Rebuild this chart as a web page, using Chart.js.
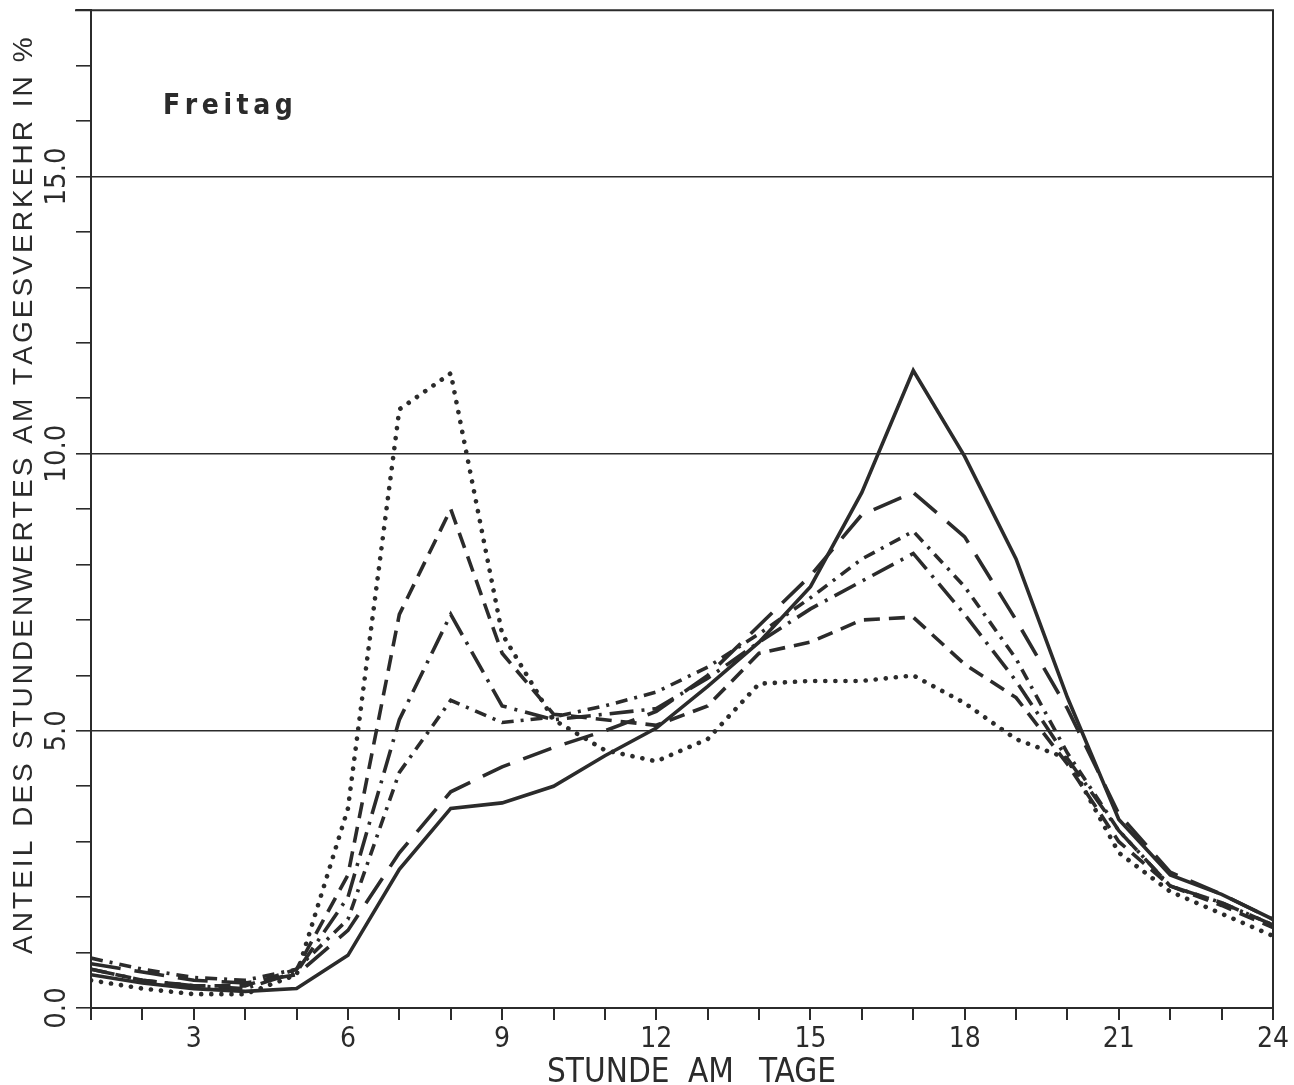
<!DOCTYPE html>
<html>
<head>
<meta charset="utf-8">
<script src="https://cdn.jsdelivr.net/npm/chart.js@4/dist/chart.umd.min.js"></script>
<style>
  html, body { margin: 0; padding: 0; background: #fff; }
  #wrap { width: 1294px; height: 1085px; }
</style>
</head>
<body>
<div id="wrap"><canvas id="myChart" width="1294" height="1085"></canvas></div>
<script>
var hours = [1, 2, 3, 4, 5, 6, 7, 8, 9, 10, 11, 12, 13, 14, 15, 16, 17, 18, 19, 20, 21, 22, 23, 24];

// Anteil des Stundenwertes am Tagesverkehr in %, one array per curve
var solid       = [0.6, 0.45, 0.35, 0.3, 0.35, 0.95, 2.5, 3.6, 3.7, 4.0, 4.55, 5.05, 5.8, 6.6, 7.6, 9.3, 11.5, 9.95, 8.1, 5.6, 3.4, 2.4, 2.05, 1.6];
var longDash    = [0.8, 0.65, 0.5, 0.45, 0.6, 1.4, 2.8, 3.9, 4.35, 4.7, 5.0, 5.35, 6.0, 6.9, 7.8, 8.9, 9.3, 8.5, 7.0, 5.4, 3.5, 2.45, 2.05, 1.6];
var dashDot     = [0.9, 0.7, 0.55, 0.5, 0.7, 1.6, 4.25, 5.55, 5.15, 5.25, 5.45, 5.7, 6.15, 6.75, 7.4, 8.1, 8.6, 7.6, 6.3, 4.6, 3.2, 2.2, 1.9, 1.5];
var longDashDot = [0.7, 0.5, 0.4, 0.35, 0.65, 2.0, 5.2, 7.1, 5.45, 5.2, 5.3, 5.4, 5.95, 6.6, 7.2, 7.7, 8.2, 7.1, 5.9, 4.5, 3.2, 2.2, 1.9, 1.5];
var dashed      = [0.7, 0.5, 0.4, 0.4, 0.7, 2.4, 7.1, 9.0, 6.4, 5.3, 5.2, 5.1, 5.45, 6.4, 6.6, 7.0, 7.05, 6.2, 5.6, 4.4, 3.0, 2.2, 1.85, 1.45];
var dotted      = [0.5, 0.35, 0.25, 0.25, 0.6, 3.6, 10.8, 11.45, 6.75, 5.2, 4.65, 4.45, 4.85, 5.85, 5.9, 5.9, 6.0, 5.5, 4.85, 4.5, 2.8, 2.1, 1.7, 1.3];

var yTickValues = [0, 5, 10, 15];
var yTickLabels = ['0.0', '5.0', '10.0', '15.0'];
var panelTitle = 'Freitag';
var yTitle = 'ANTEIL DES STUNDENWERTES AM TAGESVERKEHR IN %';
var xTitleWords = ['STUNDE', 'AM', 'TAGE'];

var ink = '#2b2b2b';
var narrow = "'Liberation Sans Narrow', 'DejaVu Sans Condensed', sans-serif";
var plain = "'Liberation Sans', 'DejaVu Sans', sans-serif";

function pts(arr) {
    return arr.map(function (v, i) { return { x: hours[i], y: v }; });
}

function ds(label, arr, dash, cap, width) {
    return {
        label: label,
        data: pts(arr),
        borderColor: ink,
        borderWidth: width || 3.6,
        borderDash: dash,
        borderCapStyle: cap || 'butt',
        pointRadius: 0,
        tension: 0,
        fill: false
    };
}

// draw a string with extra spacing so it spans the given width
function spread(c, text, x0, y, width) {
    var w = c.measureText(text).width;
    var extra = (width - w) / (text.length - 1);
    var x = x0;
    for (var i = 0; i < text.length; i++) {
        c.fillText(text[i], x, y);
        x += c.measureText(text[i]).width + extra;
    }
}

// frame, axis texts and the panel label
var textPlugin = {
    id: 'texts',
    afterDraw: function (chart) {
        var c = chart.ctx, a = chart.chartArea, ys = chart.scales.y;
        c.save();
        c.strokeStyle = ink;
        c.lineWidth = 2;
        c.beginPath();
        c.moveTo(a.left - 16, a.top);
        c.lineTo(a.right, a.top);
        c.lineTo(a.right, a.bottom);
        c.stroke();

        c.fillStyle = ink;
        c.textBaseline = 'alphabetic';
        c.textAlign = 'left';
        c.font = "bold 28px " + narrow;
        spread(c, panelTitle, a.left + 72, 114, 128);

        // rotated y tick labels
        c.font = "29px " + narrow;
        c.textAlign = 'center';
        c.textBaseline = 'middle';
        yTickValues.forEach(function (v, i) {
            c.save();
            c.translate(57, ys.getPixelForValue(v));
            c.rotate(-Math.PI / 2);
            c.fillText(yTickLabels[i], 0, 0);
            c.restore();
        });

        // y axis title
        c.save();
        c.translate(24, 497);
        c.rotate(-Math.PI / 2);
        c.font = "28px " + plain;
        c.textAlign = 'left';
        c.textBaseline = 'middle';
        spread(c, yTitle, -457, 0, 914);
        c.restore();

        // x axis title, word by word
        c.font = "33px " + narrow;
        c.textAlign = 'left';
        c.textBaseline = 'alphabetic';
        var wx = [547, 688, 759];
        xTitleWords.forEach(function (w, i) { c.fillText(w, wx[i], 1082); });
        c.restore();
    }
};

var ctx = document.getElementById('myChart').getContext('2d');
var myChart = new Chart(ctx, {
    type: 'line',
    data: {
        datasets: [
            ds('solid', solid, []),
            ds('long dash', longDash, [30, 14]),
            ds('dash dot', dashDot, [12, 7, 3, 7]),
            ds('long dash dot', longDashDot, [24, 8, 3, 8]),
            ds('dashed', dashed, [16, 9]),
            ds('dotted', dotted, [0.1, 10], 'round', 4.6)
        ]
    },
    plugins: [textPlugin],
    options: {
        responsive: false,
        animation: false,
        layout: { padding: { top: 10, right: 21, left: 0, bottom: 0 } },
        plugins: {
            legend: { display: false },
            tooltip: { enabled: false }
        },
        scales: {
            x: {
                type: 'linear',
                min: 1,
                max: 24,
                afterFit: function (s) { s.height = 77; },
                border: { display: true, color: ink, width: 2 },
                grid: { drawOnChartArea: false, tickLength: 12, color: ink, lineWidth: 2 },
                ticks: {
                    stepSize: 1,
                    autoSkip: false,
                    maxRotation: 0,
                    padding: 3,
                    color: ink,
                    font: { family: narrow, size: 28 },
                    callback: function (v) { return v % 3 === 0 ? String(v) : ''; }
                }
            },
            y: {
                min: 0,
                max: 18,
                afterFit: function (s) { s.width = 91; },
                border: { display: true, color: ink, width: 2 },
                grid: {
                    tickLength: 15,
                    lineWidth: 1.6,
                    tickColor: ink,
                    color: function (c) {
                        return c.tick && c.tick.value % 5 === 0 && c.tick.value > 0 ? ink : 'rgba(0,0,0,0)';
                    }
                },
                ticks: {
                    stepSize: 1,
                    autoSkip: false,
                    callback: function () { return ''; }
                }
            }
        }
    }
});
</script>
</body>
</html>
